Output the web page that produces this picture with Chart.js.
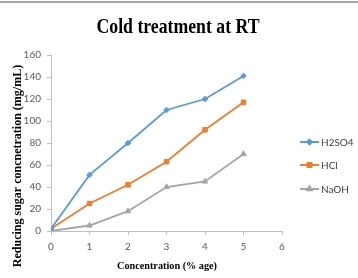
<!DOCTYPE html>
<html>
<head>
<meta charset="utf-8">
<script src="https://cdn.jsdelivr.net/npm/chart.js@4"></script>
<style>
  html, body { margin: 0; padding: 0; background: #fff; }
  canvas { display: block; }
</style>
</head>
<body>
<canvas id="coldChart" width="358" height="278"></canvas>
<script>
// values
const concentrations = [0, 1, 2, 3, 4, 5];
const h2so4Values = [2, 51, 80, 110, 120, 141];
const hclValues = [2, 25, 42, 63, 92, 117];
const naohValues = [0, 5, 18, 40, 45, 70];
const seriesNames = ['H2SO4', 'HCl', 'NaOH'];

const chartTitle = 'Cold treatment at RT';
const xTitle = 'Concentration (% age)';
const yTitle = 'Reducing sugar concnetration (mg/mL)';

const axisColor = '#bfbfbf';
const tickColor = '#595959';

function toPoints(values) {
  return values.map((v, i) => ({ x: concentrations[i], y: v }));
}

// draw text squeezed to a given width (the reference uses a condensed serif)
function fitText(ctx, text, x, y, width) {
  const w = ctx.measureText(text).width;
  const s = Math.min(1, width / w);
  ctx.save();
  ctx.translate(x, y);
  ctx.scale(s, 1);
  ctx.fillText(text, 0, 0);
  ctx.restore();
}

const decorations = {
  id: 'decorations',
  afterDraw(chart) {
    const ctx = chart.ctx;
    ctx.save();

    // grey rule along the top edge
    ctx.fillStyle = '#a6a6a6';
    ctx.fillRect(0, 1, 358, 2);

    ctx.fillStyle = '#000';
    ctx.textAlign = 'center';

    // main title
    ctx.font = 'bold 22px "Liberation Serif"';
    ctx.textBaseline = 'alphabetic';
    fitText(ctx, chartTitle, 178, 33, 163);

    // x axis title
    ctx.font = 'bold 11px "Liberation Serif"';
    ctx.textBaseline = 'middle';
    fitText(ctx, xTitle, 167, 266, 100);

    // y axis title
    ctx.save();
    ctx.translate(18, 166);
    ctx.rotate(-Math.PI / 2);
    ctx.font = 'bold 12px "Liberation Serif"';
    fitText(ctx, yTitle, 0, 0, 212);
    ctx.restore();

    // legend
    const legendY = [142, 165, 189];
    chart.data.datasets.forEach((ds, i) => {
      const y = legendY[i];
      ctx.strokeStyle = ds.borderColor;
      ctx.lineWidth = 2;
      ctx.beginPath();
      ctx.moveTo(300, y);
      ctx.lineTo(319, y);
      ctx.stroke();
      ctx.fillStyle = ds.pointBackgroundColor;
      ctx.strokeStyle = ds.pointBorderColor;
      Chart.helpers.drawPoint(ctx, {
        pointStyle: ds.pointStyle,
        radius: ds.pointRadius - 0.5,
        rotation: 0,
        borderWidth: 1
      }, 309.5, y);
      ctx.fillStyle = '#404040';
      ctx.font = '10px Lato';
      ctx.textAlign = 'left';
      ctx.textBaseline = 'middle';
      ctx.fillText(ds.label, 321, y + 0.5);
    });

    ctx.restore();
  }
};

function makeDataset(label, values, color, style, radius) {
  return {
    label: label,
    data: toPoints(values),
    borderColor: color,
    backgroundColor: color,
    pointBackgroundColor: color,
    pointBorderColor: color,
    pointBorderWidth: 1,
    pointStyle: style,
    pointRadius: radius,
    borderWidth: 1.8,
    tension: 0
  };
}

window.onload = function () {
  const ctx = document.getElementById('coldChart').getContext('2d');
  new Chart(ctx, {
    type: 'line',
    data: {
      datasets: [
        makeDataset(seriesNames[0], h2so4Values, '#5b9bd5', 'rectRot', 2.8),
        makeDataset(seriesNames[1], hclValues, '#ed7d31', 'rect', 3.2),
        makeDataset(seriesNames[2], naohValues, '#a5a5a5', 'triangle', 3.2)
      ]
    },
    options: {
      responsive: false,
      animation: false,
      devicePixelRatio: 1,
      layout: { padding: { top: 55, right: 76, left: 0, bottom: 0 } },
      plugins: {
        legend: { display: false },
        title: { display: false },
        tooltip: { enabled: false }
      },
      scales: {
        x: {
          type: 'linear',
          min: 0,
          max: 6,
          ticks: { stepSize: 1, color: tickColor, font: { family: 'Lato', size: 10 }, padding: 6 },
          grid: { drawOnChartArea: false, tickLength: 4, color: axisColor },
          border: { color: axisColor },
          afterFit(scale) { scale.height = 47; }
        },
        y: {
          min: 0,
          max: 160,
          ticks: { stepSize: 20, color: tickColor, font: { family: 'Lato', size: 10 }, padding: 6 },
          grid: { drawOnChartArea: false, tickLength: 4, color: axisColor },
          border: { color: axisColor },
          afterFit(scale) { scale.width = 51; }
        }
      }
    },
    plugins: [decorations]
  });
};
</script>
</body>
</html>
